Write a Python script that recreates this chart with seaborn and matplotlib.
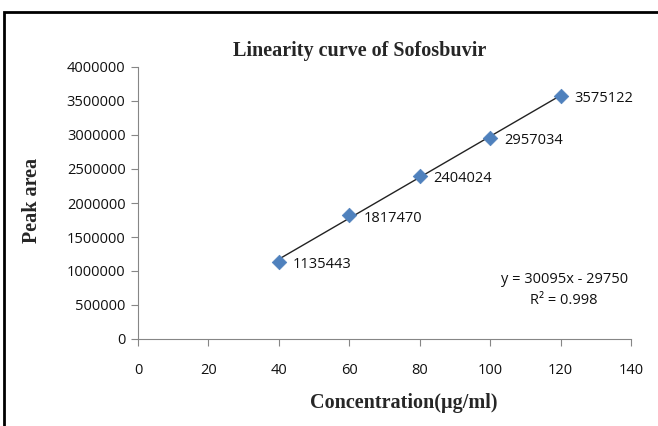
import matplotlib
matplotlib.use("Agg")
import matplotlib.pyplot as plt
import matplotlib.patches as mpatches
import pandas as pd
import seaborn as sns

concentration = [40, 60, 80, 100, 120]
peak_area = [1135443, 1817470, 2404024, 2957034, 3575122]
x_ticks = [0, 20, 40, 60, 80, 100, 120, 140]
y_ticks = [0, 500000, 1000000, 1500000, 2000000, 2500000, 3000000, 3500000, 4000000]
equation_text = "y = 30095x - 29750"
r2_text = "R\u00b2 = 0.998"

sns.set_theme(style="white")
plt.rcParams["font.family"] = ["Open Sans", "DejaVu Sans"]

df = pd.DataFrame({"conc": concentration, "area": peak_area})

fig = plt.figure(figsize=(6.58, 4.26), dpi=100)
ax = fig.add_axes([138 / 658, 1 - 339 / 426, (631 - 138) / 658, (339 - 67) / 426])

sns.regplot(data=df, x="conc", y="area", ax=ax, ci=None, scatter=False,
            line_kws={"color": "#222222", "linewidth": 1.0})
sns.scatterplot(data=df, x="conc", y="area", ax=ax, marker="D", s=55,
                color="#4F81BD", edgecolor="#4F81BD", linewidth=0.5, zorder=3)

for xv, yv in zip(concentration, peak_area):
    ax.annotate(str(yv), (xv, yv), xytext=(10, -2), textcoords="offset points",
                ha="left", va="center", fontsize=10.5, color="#111111")

ax.text(121, 880000, equation_text, ha="center", va="center", fontsize=10.5, color="#111111")
ax.text(121, 570000, r2_text, ha="center", va="center", fontsize=10.5, color="#111111")

ax.set_xlim(0, 140)
ax.set_ylim(0, 4000000)
ax.set_xticks(x_ticks)
ax.set_yticks(y_ticks)
ax.set_xticklabels([str(t) for t in x_ticks])
ax.set_yticklabels([str(t) for t in y_ticks])
ax.tick_params(axis="both", which="both", length=5, width=0.8, color="#868686",
               labelsize=10.5, labelcolor="#111111", direction="out", pad=4)
ax.tick_params(axis="x", pad=12)
ax.xaxis.set_ticks_position("bottom")
ax.yaxis.set_ticks_position("left")
for side in ["top", "right"]:
    ax.spines[side].set_visible(False)
for side in ["left", "bottom"]:
    ax.spines[side].set_color("#868686")
    ax.spines[side].set_linewidth(0.8)

serif = ["Liberation Serif", "DejaVu Serif"]
ax.set_xlabel("")
ax.set_ylabel("")
fig.text(360 / 658, 1 - 51 / 426, "Linearity curve of Sofosbuvir", ha="center", va="center",
         fontsize=14.5, fontweight="bold", family=serif)
fig.text(404 / 658, 1 - 403 / 426, "Concentration(\u00b5g/ml)", ha="center", va="center",
         fontsize=14.5, fontweight="bold", family=serif)
fig.text(32 / 658, 1 - 200 / 426, "Peak area", ha="center", va="center", rotation=90,
         fontsize=14.5, fontweight="bold", family=serif)

border = mpatches.Rectangle((4 / 658, -0.05), 1.0, 0.05 + 1 - 12 / 426, transform=fig.transFigure,
                            fill=False, edgecolor="black", linewidth=2.0)
fig.patches.append(border)

fig.savefig("out.png", dpi=100)
